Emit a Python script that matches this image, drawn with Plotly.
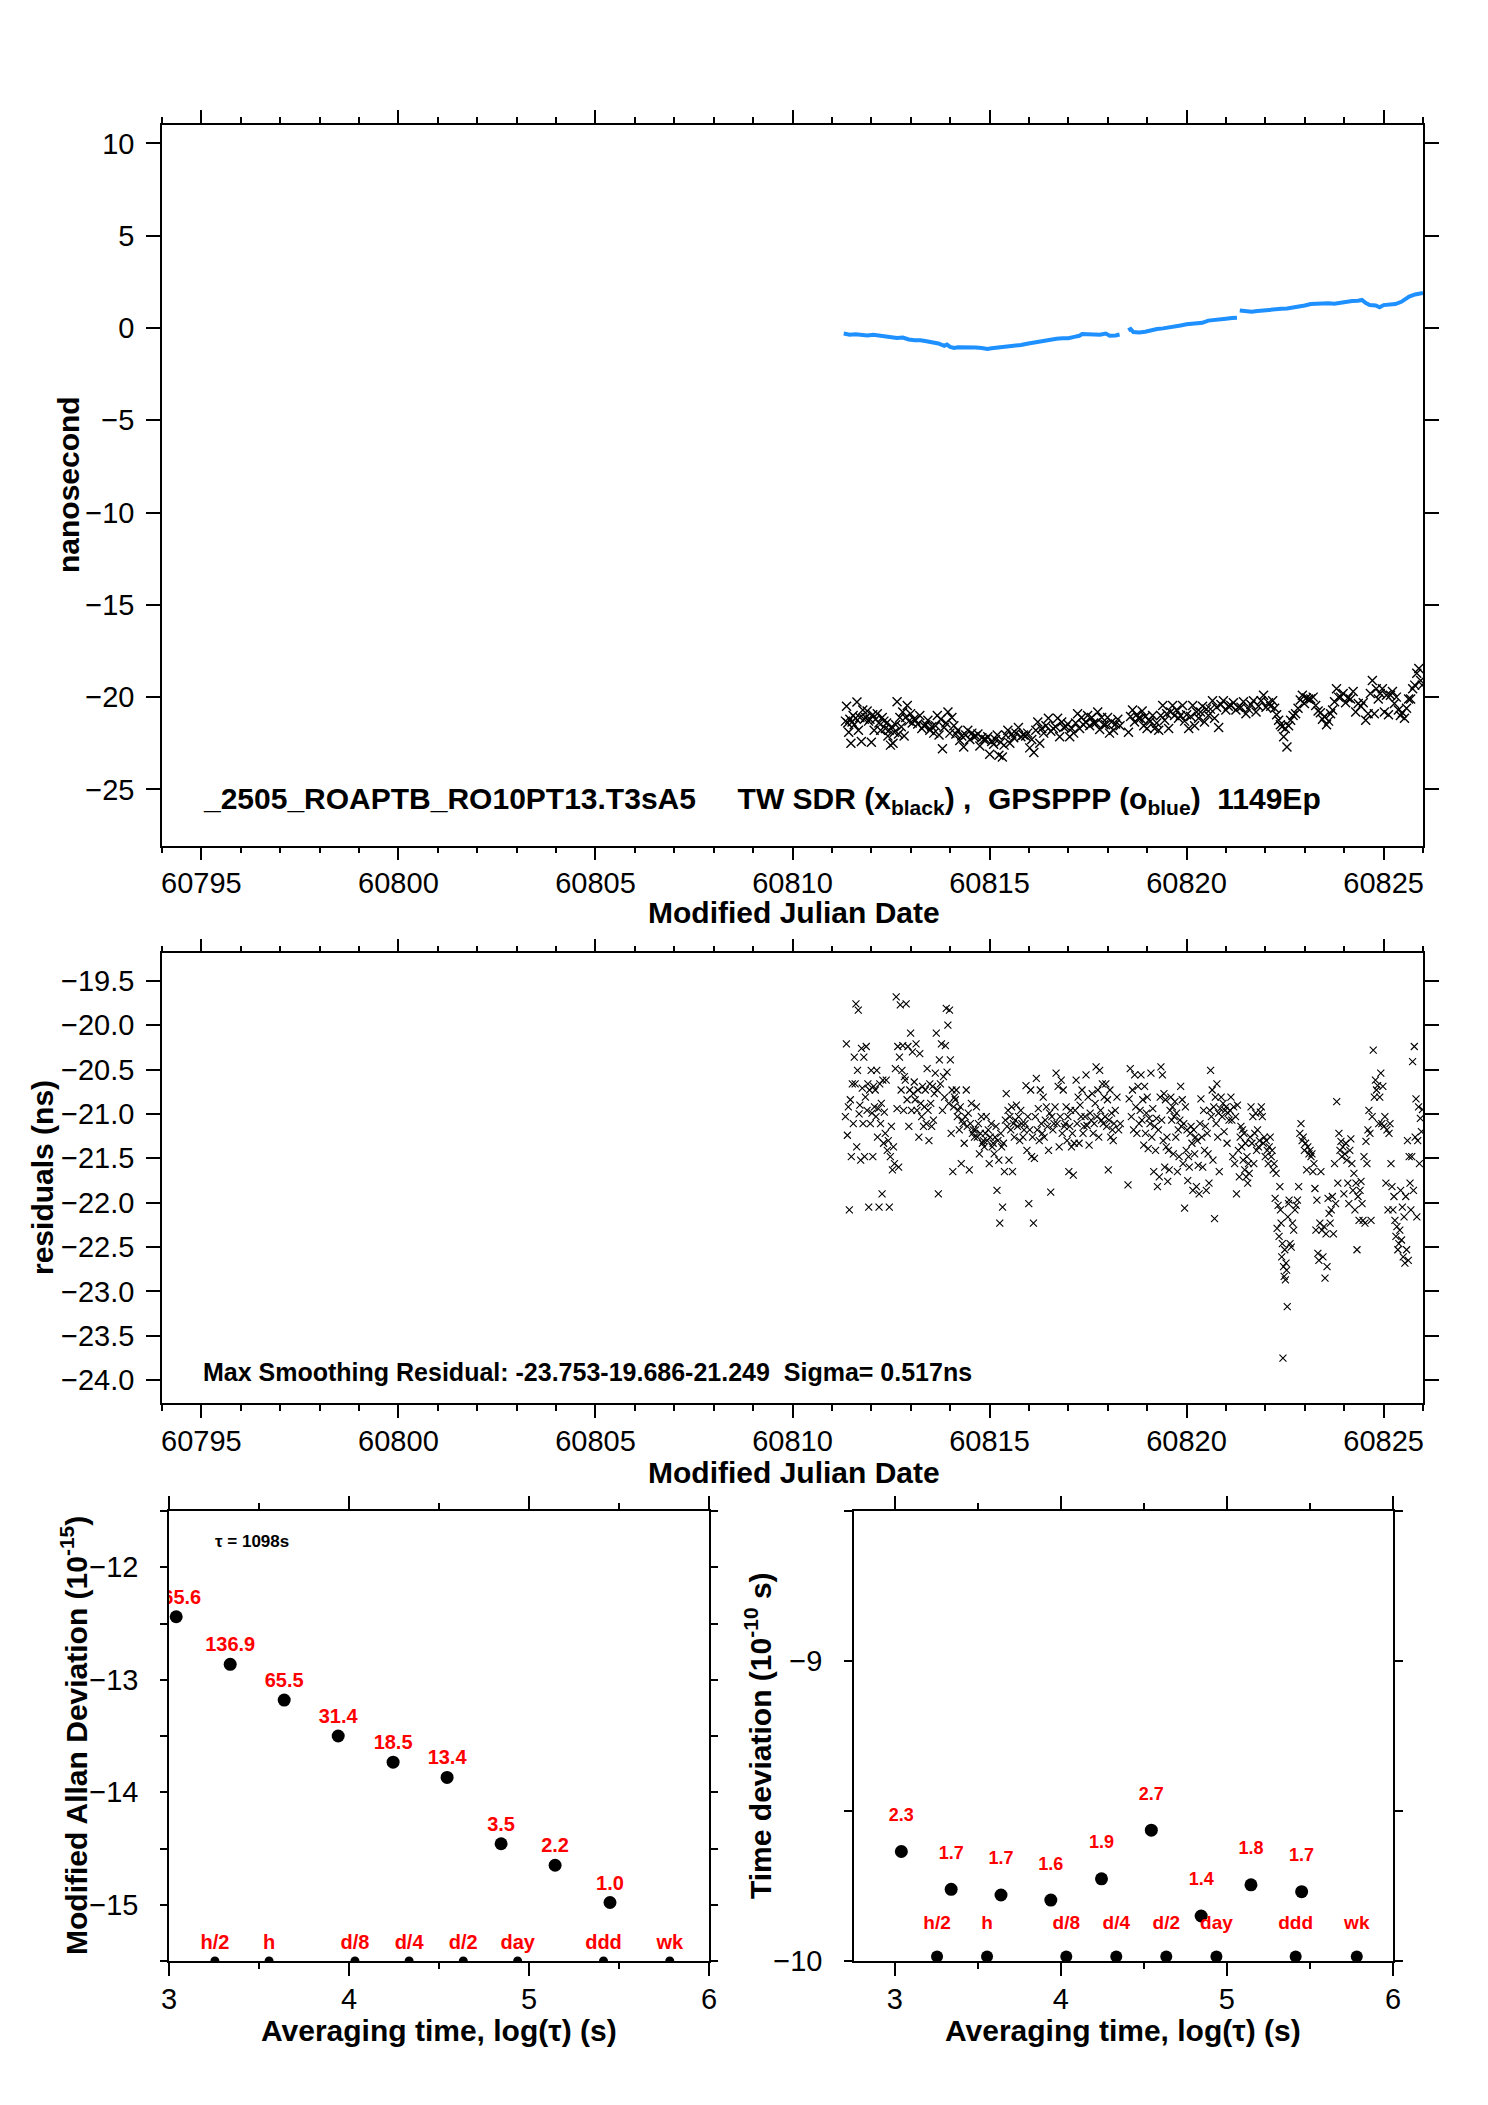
import plotly.graph_objects as go

W, H = 1488, 2105
FONT = "Liberation Sans, Arial, Helvetica, sans-serif"

# ---------------- data ----------------
# sampling bins (MJD starts); points of each bin are placed on evenly spaced epochs inside the bin
BIN_MJD = [60811.33, 60811.58, 60811.84, 60812.09, 60812.34, 60812.60, 60812.85, 60813.10,
           60813.36, 60813.61, 60813.87, 60814.12, 60814.37, 60814.63, 60814.88, 60815.13,
           60815.39, 60815.64, 60815.89, 60816.15, 60816.40, 60816.65, 60816.91, 60817.16,
           60817.41, 60817.67, 60817.92, 60818.17, 60818.34, 60818.50,
           60818.81, 60819.06, 60819.32, 60819.57, 60819.82, 60820.08, 60820.33, 60820.58,
           60820.84, 60821.09, 60821.35, 60821.60, 60821.86, 60822.11, 60822.36, 60822.61,
           60822.86, 60823.12, 60823.37, 60823.63, 60823.88, 60824.13, 60824.39, 60824.64,
           60824.89, 60825.15, 60825.40, 60825.66, 60825.92]
BIN_END = 60826.0

# TW SDR (black x), ns
TW_NS = [
    [-21.3, -20.5, -21.4, -21.9, -21.2, -22.5, -21.35, -21.0, -21.5],
    [-21.15, -20.27, -21.8, -21.1, -22.4, -20.7, -21.2],
    [-21.1, -20.75, -21.3, -21.2, -22.45, -20.95, -21.8],
    [-21.2, -20.9, -21.4, -21.8, -21.1, -21.3],
    [-21.7, -21.4, -22.1, -21.8, -22.6, -21.6, -22.5, -21.9],
    [-21.5, -20.25, -22.0, -21.1, -21.6, -20.8, -22.1],
    [-21.1, -20.45, -21.3, -20.9, -21.4, -21.2],
    [-21.25, -21.45, -21.0, -21.7, -21.55],
    [-21.5, -21.25, -21.8, -21.6, -21.95],
    [-21.55, -21.0, -22.05, -21.2, -22.8, -21.65],
    [-21.4, -20.8, -21.95, -21.1, -21.55],
    [-22.0, -21.8, -22.35, -22.1, -22.7],
    [-22.05, -21.8, -22.3, -21.95, -22.15],
    [-22.1, -22.0, -22.65, -22.2, -22.3],
    [-22.3, -22.15, -23.1, -22.4, -22.55],
    [-22.3, -22.05, -23.15, -22.45, -23.25, -22.6],
    [-22.05, -21.8, -22.5, -22.0, -22.2],
    [-21.95, -21.65, -22.15, -22.05],
    [-22.1, -21.95, -22.75, -22.3, -23.0],
    [-21.8, -21.35, -22.5, -21.7, -21.95],
    [-21.55, -21.15, -21.85, -21.7],
    [-21.6, -21.15, -22.15, -21.35, -21.65],
    [-21.6, -21.45, -22.15, -21.7, -21.95],
    [-21.4, -20.9, -21.7, -21.1, -21.5],
    [-21.35, -21.0, -21.55, -21.1, -21.4],
    [-21.4, -20.8, -21.75, -21.1, -21.5],
    [-21.5, -21.1, -21.95, -21.35, -21.8],
    [-21.45, -21.2, -21.55],
    [],
    [-21.9, -21.05, -20.7, -21.35, -20.95, -21.15],
    [-21.15, -20.75, -21.55, -21.05, -21.7, -21.25],
    [-21.3, -21.0, -21.7, -21.4, -21.8],
    [-21.0, -20.45, -21.25, -20.9, -21.7],
    [-20.8, -20.45, -21.0, -20.7, -21.15],
    [-21.0, -20.45, -21.3, -20.95, -21.7],
    [-21.05, -20.45, -21.55, -20.8, -21.15],
    [-20.8, -20.5, -21.35, -20.65, -21.0],
    [-20.65, -20.2, -21.15, -20.55, -21.65],
    [-20.4, -20.2, -20.7, -20.5],
    [-20.45, -20.3, -20.7, -20.55],
    [-20.55, -20.25, -20.9, -20.65],
    [-20.4, -20.2, -20.8, -20.5],
    [-20.2, -19.9, -20.55, -20.3],
    [-20.5, -20.2, -20.6, -20.95, -21.25],
    [-21.5, -21.6, -22.15, -21.7, -22.7, -21.55],
    [-21.25, -21.0, -20.9, -20.6],
    [-20.15, -19.9, -20.35, -20.05, -20.1],
    [-20.1, -20.0, -20.45, -20.75],
    [-20.85, -21.2, -21.05, -21.5, -21.3],
    [-20.9, -20.7, -20.25, -19.55, -20.0],
    [-20.0, -19.8, -20.3, -20.05],
    [-20.1, -19.7, -20.8, -20.35],
    [-20.5, -20.3, -21.25, -20.9],
    [-19.8, -19.1, -20.9, -19.55, -20.1],
    [-19.8, -19.55, -20.8, -19.9, -20.95],
    [-19.9, -19.7, -20.35, -20.0, -20.7],
    [-21.0, -20.85, -21.15, -20.6, -20.1],
    [-20.1, -19.55, -19.35, -18.7, -18.45],
    [-19.1, -19.35],
]

# smoothing residuals (ns)
RES_NS = [
    [-21.03, -20.21, -21.24, -20.92, -22.08, -20.84, -21.48, -20.66, -21.11, -20.36],
    [-20.66, -19.76, -21.37, -20.51, -19.83, -21.00, -20.90, -21.52, -20.26, -20.71, -21.11, -20.36, -21.48],
    [-20.81, -20.24, -20.96, -20.66, -22.05, -20.73, -21.11, -20.51, -20.99, -21.48, -20.69, -20.92],
    [-20.73, -21.03, -20.51, -21.26, -20.94, -22.05, -20.66, -21.11, -20.88, -21.90, -20.62, -21.33, -20.98],
    [-21.22, -20.62, -21.41, -21.30, -22.05, -21.48, -21.14, -21.63, -21.37, -21.56],
    [-20.49, -19.68, -20.94, -20.24, -21.60, -20.36, -19.77, -20.73, -20.51, -20.23, -20.96, -20.58],
    [-20.62, -19.76, -20.84, -20.24, -21.14, -20.73, -20.09, -20.96, -20.30, -20.77, -20.64],
    [-20.84, -20.21, -20.96, -20.73, -21.26, -20.32, -20.88, -21.03, -20.69, -21.14, -20.92],
    [-20.73, -21.11, -20.49, -20.96, -21.30, -20.66, -20.88, -21.14, -20.69, -21.07, -20.77],
    [-20.54, -20.09, -20.73, -21.90, -20.39, -20.66, -20.21, -20.96, -20.58, -20.81],
    [-20.23, -19.81, -20.53, -20.00, -20.88, -19.83, -20.39, -21.22, -20.73, -21.65, -20.92, -20.81],
    [-20.84, -20.73, -21.03, -20.96, -21.18, -20.92, -21.56, -21.07, -21.11, -21.33],
    [-21.03, -20.73, -21.14, -20.99, -21.63, -21.11, -20.88, -21.22, -21.18, -21.26],
    [-21.18, -20.92, -21.26, -21.11, -21.45, -21.22, -21.03, -21.33, -21.30, -21.37],
    [-21.22, -21.03, -21.30, -21.18, -21.56, -21.26, -21.11, -21.37, -21.33, -21.45],
    [-21.26, -21.14, -21.86, -21.30, -21.52, -22.23, -21.22, -21.37, -22.05, -21.33, -21.65],
    [-21.07, -20.77, -21.14, -20.96, -21.52, -21.03, -21.18, -20.92, -21.65, -21.11, -21.26],
    [-21.07, -20.90, -21.14, -21.03, -21.30, -20.96, -21.11, -21.26, -21.18],
    [-21.11, -20.68, -21.41, -21.03, -22.01, -21.18, -20.73, -21.48, -21.26, -22.23, -21.50],
    [-21.03, -20.60, -21.18, -20.94, -21.30, -20.73, -21.11, -21.22, -20.81, -21.26],
    [-21.07, -20.92, -21.14, -21.41, -20.99, -21.88, -21.03, -21.18, -21.11],
    [-20.92, -20.54, -21.11, -20.69, -21.37, -21.03, -20.62, -21.22, -20.73, -21.14],
    [-21.11, -20.92, -21.30, -21.03, -21.65, -21.14, -20.96, -21.37, -21.22, -21.69, -21.33],
    [-20.96, -20.62, -21.11, -20.81, -21.33, -20.90, -21.03, -20.73, -21.22, -21.14],
    [-21.03, -20.56, -21.13, -20.81, -21.35, -20.99, -21.07, -20.77, -21.22, -21.11],
    [-20.88, -20.47, -21.03, -20.73, -21.26, -20.51, -20.96, -21.07, -20.66, -21.11, -20.81],
    [-21.03, -20.66, -21.14, -20.84, -21.63, -21.07, -20.73, -21.26, -20.99, -21.18, -21.30, -21.11],
    [-20.96, -20.81, -21.18, -21.11],
    [],
    [-21.80, -20.83, -20.49, -21.03, -20.73, -21.18, -20.56, -20.92, -21.22, -20.69, -21.11],
    [-20.96, -20.56, -21.07, -20.84, -21.35, -20.69, -21.22, -20.99, -20.81, -21.39, -21.05],
    [-21.11, -20.54, -21.26, -20.94, -21.65, -21.14, -21.41, -21.05, -21.82, -21.18, -21.71],
    [-20.81, -20.47, -21.07, -20.56, -21.30, -20.77, -21.60, -20.84, -21.37, -21.26, -21.76, -21.41, -21.63],
    [-20.96, -20.81, -21.07, -20.92, -21.45, -21.03, -20.86, -21.26, -20.99, -21.65, -21.18, -21.48],
    [-21.07, -20.69, -21.14, -20.84, -21.56, -21.11, -22.06, -20.92, -21.41, -21.18, -21.75, -21.48, -21.60],
    [-21.22, -21.14, -21.33, -21.86, -21.18, -21.45, -21.26, -21.82, -21.30, -21.58, -21.90],
    [-21.11, -20.83, -21.26, -21.60, -20.96, -21.41, -21.14, -21.86, -21.22, -21.45, -21.78],
    [-20.96, -20.51, -21.03, -20.73, -21.52, -20.92, -22.18, -20.81, -21.11, -20.66, -21.26, -20.99, -21.65],
    [-20.94, -20.81, -21.03, -20.88, -21.20, -20.96, -20.92, -21.33, -20.99, -21.07],
    [-20.96, -20.81, -21.07, -21.48, -20.92, -21.56, -21.03, -21.90, -20.90, -21.41, -21.71],
    [-21.26, -21.14, -21.37, -21.18, -21.52, -21.22, -21.63, -21.33, -21.71, -21.48, -21.78, -21.56, -21.67],
    [-21.26, -20.92, -21.33, -21.03, -21.56, -21.22, -20.99, -21.41, -21.18, -21.37, -21.30],
    [-20.98, -20.92, -21.03, -21.33, -21.26, -21.48, -21.30, -21.41, -21.56, -21.37],
    [-21.26, -21.48, -21.41, -21.63, -21.56, -21.95, -21.67, -22.29, -22.03, -22.38],
    [-21.82, -22.08, -22.23, -22.61, -22.46, -23.75, -22.72, -22.83, -22.53, -22.87, -22.68, -22.76,
     -23.17, -22.16, -22.01, -21.97],
    [-22.46, -22.50, -22.23, -22.31, -22.08, -22.03, -21.97, -21.82],
    [-21.22, -21.11, -21.30, -21.26, -21.41, -21.33, -21.63, -21.37, -21.45],
    [-21.41, -21.48, -21.45, -21.65, -21.56, -21.84, -22.31, -21.97, -22.57, -22.65],
    [-22.23, -21.65, -22.31, -22.61, -22.27, -22.85, -22.35, -22.72, -21.95, -22.12],
    [-22.23, -22.08, -21.93, -22.35, -21.56, -22.01, -20.86, -21.78, -21.22],
    [-21.41, -21.31, -21.48, -21.37, -21.90, -21.45, -21.33, -21.52, -21.78, -22.01],
    [-21.41, -21.28, -21.56, -21.86, -21.67, -22.08, -21.78, -22.53, -21.93, -22.20],
    [-21.86, -21.76, -22.01, -22.20, -21.48, -22.23, -21.31, -21.56, -21.18, -20.96],
    [-21.22, -22.20, -21.03, -20.28, -20.81, -20.62, -20.73, -20.68, -21.11],
    [-20.81, -20.54, -21.11, -20.69, -21.14, -21.03, -21.78, -21.18, -22.08, -21.22],
    [-21.11, -21.56, -21.82, -22.08, -21.93, -22.20, -22.38, -22.27, -22.53, -22.46],
    [-22.31, -21.86, -22.42, -22.05, -22.61, -22.16, -22.68, -21.93, -22.53, -21.30, -22.65, -21.48],
    [-21.78, -22.08, -21.48, -20.41, -21.86, -20.24, -21.26, -20.83, -22.16, -21.30, -20.92, -21.56],
    [-21.05, -21.20, -20.95],
]

# GPSPPP (blue), ns ; None marks a data gap
GPS_MJD = [60811.30, 60811.45, 60811.60, 60811.75, 60811.90, 60812.05, 60812.20, 60812.35, 60812.50,
           60812.65, 60812.80, 60812.95, 60813.10, 60813.25, 60813.40, 60813.55, 60813.70, 60813.85,
           60813.92, 60814.00, 60814.10, 60814.20, 60814.35, 60814.50, 60814.65, 60814.80, 60814.95,
           60815.05, 60815.20, 60815.35, 60815.50, 60815.65, 60815.80, 60815.95, 60816.10, 60816.25,
           60816.40, 60816.55, 60816.70, 60816.85, 60817.00, 60817.15, 60817.28, 60817.35, 60817.50,
           60817.65, 60817.80, 60817.95, 60818.05, 60818.20, 60818.30, 60818.40,
           60818.52, 60818.58, 60818.65, 60818.80, 60818.95, 60819.10, 60819.25, 60819.40, 60819.55,
           60819.70, 60819.85, 60820.00, 60820.15, 60820.30, 60820.40, 60820.55, 60820.70, 60820.85,
           60821.00, 60821.15, 60821.28, 60821.31,
           60821.35, 60821.50, 60821.65, 60821.80, 60821.95, 60822.10, 60822.25, 60822.40, 60822.55,
           60822.70, 60822.85, 60823.00, 60823.15, 60823.30, 60823.45, 60823.60, 60823.75, 60823.90,
           60824.05, 60824.20, 60824.35, 60824.45, 60824.55, 60824.65, 60824.80, 60824.90, 60825.00,
           60825.15, 60825.30, 60825.45, 60825.55, 60825.65, 60825.80, 60825.95, 60826.00]
GPS_NS = [-0.30, -0.36, -0.34, -0.38, -0.40, -0.36, -0.40, -0.45, -0.49,
          -0.54, -0.52, -0.62, -0.66, -0.66, -0.72, -0.76, -0.84, -0.97,
          -0.90, -1.02, -1.08, -1.04, -1.03, -1.04, -1.05, -1.08, -1.13,
          -1.10, -1.07, -1.04, -0.98, -0.93, -0.92, -0.85, -0.79, -0.74,
          -0.68, -0.63, -0.58, -0.56, -0.55, -0.48, -0.42, -0.33, -0.35,
          -0.32, -0.36, -0.30, -0.42, -0.40, -0.35, None,
          -0.12, -0.05, -0.22, -0.24, -0.20, -0.12, -0.05, -0.02, 0.02,
          0.10, 0.14, 0.20, 0.22, 0.22, 0.28, 0.40, 0.45, 0.48,
          0.50, 0.54, 0.56, None,
          0.95, 0.90, 0.88, 0.92, 0.96, 0.98, 1.02, 1.04, 1.06,
          1.10, 1.14, 1.22, 1.30, 1.32, 1.34, 1.34, 1.32, 1.38,
          1.40, 1.46, 1.48, 1.52, 1.35, 1.25, 1.22, 1.12, 1.24,
          1.28, 1.30, 1.42, 1.56, 1.70, 1.82, 1.88, 1.90]

# stability panels
TAU_LOG = [3.04, 3.34, 3.64, 3.94, 4.245, 4.545, 4.845, 5.145, 5.45]
MDEV_LOG = [-12.44, -12.863, -13.181, -13.50, -13.733, -13.868, -14.458, -14.649, -14.98]
MDEV_LABELS = ["365.6", "136.9", "65.5", "31.4", "18.5", "13.4", "3.5", "2.2", "1.0"]
TDEV_LOG = [-9.635, -9.761, -9.780, -9.797, -9.726, -9.564, -9.850, -9.746, -9.769]
TDEV_LABELS = ["2.3", "1.7", "1.7", "1.6", "1.9", "2.7", "1.4", "1.8", "1.7"]
REF_LOG = [3.255, 3.556, 4.033, 4.334, 4.635, 4.937, 5.414, 5.782]
REF_LABELS = ["h/2", "h", "d/8", "d/4", "d/2", "day", "ddd", "wk"]

TOP_TEXT = ("_2505_ROAPTB_RO10PT13.T3sA5\u00a0\u00a0\u00a0\u00a0\u00a0TW SDR (x<sub>black</sub>)\u00a0,"
            "\u00a0\u00a0GPSPPP (o<sub>blue</sub>)\u00a0\u00a01149Ep")
RES_TEXT = "Max Smoothing Residual: -23.753-19.686-21.249\u00a0\u00a0Sigma= 0.517ns"


def expand(starts, end, groups):
    edges = list(starts) + [end]
    xs, ys = [], []
    for i, vals in enumerate(groups):
        n = len(vals)
        for j, v in enumerate(vals):
            xs.append(edges[i] + (j + 0.5) * (edges[i + 1] - edges[i]) / n)
            ys.append(v)
    return xs, ys


tw_x, tw_y = expand(BIN_MJD, BIN_END, TW_NS)
res_x, res_y = expand(BIN_MJD, BIN_END, RES_NS)

# ---------------- figure ----------------
def px_x(p):
    return p / W


def px_y(p):
    return 1 - p / H


fig = go.Figure()
xmark_top = dict(symbol="x-thin", size=9, line=dict(width=1.4, color="black"), color="black")
xmark = dict(symbol="x-thin", size=7, line=dict(width=1.1, color="black"), color="black")

fig.add_trace(go.Scatter(x=GPS_MJD, y=GPS_NS, mode="lines", line=dict(color="#1E90FF", width=4),
                         xaxis="x", yaxis="y", connectgaps=False))
fig.add_trace(go.Scatter(x=tw_x, y=tw_y, mode="markers", marker=xmark_top, xaxis="x", yaxis="y"))
fig.add_trace(go.Scatter(x=res_x, y=res_y, mode="markers", marker=xmark, xaxis="x2", yaxis="y2"))

# modified Allan deviation
fig.add_trace(go.Scatter(x=TAU_LOG, y=MDEV_LOG, mode="markers",
                         marker=dict(size=13, color="black"), xaxis="x3", yaxis="y3"))
fig.add_trace(go.Scatter(x=TAU_LOG, y=[v + 0.16 for v in MDEV_LOG], mode="text",
                         text=["<b>%s</b>" % t for t in MDEV_LABELS],
                         textfont=dict(family=FONT, size=20, color="red"), xaxis="x3", yaxis="y3"))
fig.add_trace(go.Scatter(x=REF_LOG, y=[-15.5] * len(REF_LOG), mode="markers",
                         marker=dict(size=9, color="black"), xaxis="x3", yaxis="y3"))
fig.add_trace(go.Scatter(x=REF_LOG, y=[-15.5 + 0.155] * len(REF_LOG), mode="text",
                         text=["<b>%s</b>" % t for t in REF_LABELS],
                         textfont=dict(family=FONT, size=20, color="red"), xaxis="x3", yaxis="y3"))

# time deviation
fig.add_trace(go.Scatter(x=TAU_LOG, y=TDEV_LOG, mode="markers",
                         marker=dict(size=13, color="black"), xaxis="x4", yaxis="y4"))
fig.add_trace(go.Scatter(x=TAU_LOG, y=[v + 0.117 for v in TDEV_LOG], mode="text",
                         text=["<b>%s</b>" % t for t in TDEV_LABELS],
                         textfont=dict(family=FONT, size=18, color="red"), xaxis="x4", yaxis="y4"))
fig.add_trace(go.Scatter(x=REF_LOG, y=[-9.985] * len(REF_LOG), mode="markers",
                         marker=dict(size=12, color="black"), xaxis="x4", yaxis="y4"))
fig.add_trace(go.Scatter(x=REF_LOG, y=[-10 + 0.122] * len(REF_LOG), mode="text",
                         text=["<b>%s</b>" % t for t in REF_LABELS],
                         textfont=dict(family=FONT, size=19, color="red"), xaxis="x4", yaxis="y4"))

tickfont = dict(family=FONT, size=29, color="black")


def ax(domain, rng, anchor, **kw):
    d = dict(domain=domain, range=rng, anchor=anchor, showline=True, linecolor="black", linewidth=1.5,
             mirror="ticks", ticks="outside", tickcolor="black", tickwidth=1.5, showgrid=False,
             zeroline=False, tickfont=tickfont, ticklabelstandoff=6, automargin=False)
    d.update(kw)
    return d


XD_TOP = [162 / W, 1423 / W]
XSTAND = -2
fig.update_layout(
    width=W, height=H, margin=dict(l=0, r=0, t=0, b=0, pad=0), autosize=False,
    paper_bgcolor="white", plot_bgcolor="white", showlegend=False,
    font=dict(family=FONT, color="black"),
    xaxis=ax(XD_TOP, [60794, 60826], "y", tick0=60795, dtick=5, ticklen=13, tickformat="d",
             ticklabelstandoff=XSTAND,
             minor=dict(dtick=1, ticklen=6, ticks="outside", tickcolor="black", tickwidth=1.5)),
    yaxis=ax([px_y(845.7), px_y(125)], [-28.05, 11.0], "x", tick0=0, dtick=5, ticklen=14),
    xaxis2=ax(XD_TOP, [60794, 60826], "y2", tick0=60795, dtick=5, ticklen=13, tickformat="d",
              ticklabelstandoff=XSTAND,
              minor=dict(dtick=1, ticklen=6, ticks="outside", tickcolor="black", tickwidth=1.5)),
    yaxis2=ax([px_y(1403.3), px_y(953.3)], [-24.26, -19.19], "x2", tick0=-24, dtick=0.5,
              tickformat=".1f", ticklen=14),
    xaxis3=ax([169 / W, 709 / W], [3, 6], "y3", tick0=3, dtick=1, ticklen=13, ticklabelstandoff=XSTAND,
              minor=dict(dtick=0.5, ticklen=6, ticks="outside", tickcolor="black", tickwidth=1.5)),
    yaxis3=ax([px_y(1961), px_y(1511)], [-15.5, -11.5], "x3", tickvals=[-15, -14, -13, -12], ticklen=7,
              minor=dict(dtick=0.5, tick0=-15.5, ticklen=7, ticks="outside", tickcolor="black",
                         tickwidth=1.5), ticklabelstandoff=16),
    xaxis4=ax([854 / W, 1393 / W], [2.755, 6], "y4", tick0=3, dtick=1, ticklen=13, ticklabelstandoff=XSTAND,
              minor=dict(dtick=0.5, tick0=3, ticklen=6, ticks="outside", tickcolor="black", tickwidth=1.5)),
    yaxis4=ax([px_y(1961), px_y(1511)], [-10, -8.5], "x4", tickvals=[-10, -9], ticklen=8,
              minor=dict(dtick=0.5, tick0=-10, ticklen=8, ticks="outside", tickcolor="black",
                         tickwidth=1.5), ticklabelstandoff=16),
)


def title(text, x, y, angle=0, size=30):
    fig.add_annotation(text="<b>%s</b>" % text, x=px_x(x), y=px_y(y), xref="paper", yref="paper",
                       showarrow=False, textangle=angle, xanchor="center", yanchor="middle",
                       font=dict(family=FONT, size=size, color="black"))


title("nanosecond", 68, 485, -90)
title("Modified Julian Date", 794, 912)
title("residuals (ns)", 42, 1178, -90)
title("Modified Julian Date", 794, 1472)
title("Modified Allan Deviation (10<sup>-15</sup>)", 74, 1736, -90)
title("Time deviation (10<sup>-10</sup> s)", 758, 1736, -90)
title("Averaging time, log(\u03c4) (s)", 439, 2030)
title("Averaging time, log(\u03c4) (s)", 1123, 2030)

fig.add_annotation(text="<b>%s</b>" % TOP_TEXT, x=60795, y=-25.6, xref="x", yref="y", showarrow=False,
                   xanchor="left", yanchor="middle", font=dict(family=FONT, size=30, color="black"))
fig.add_annotation(text="<b>%s</b>" % RES_TEXT, x=60795, y=-23.91, xref="x2", yref="y2", showarrow=False,
                   xanchor="left", yanchor="middle", font=dict(family=FONT, size=25, color="black"))
fig.add_annotation(text="<b>\u03c4 = 1098s</b>", x=3.46, y=-11.77, xref="x3", yref="y3", showarrow=False,
                   xanchor="center", yanchor="middle", font=dict(family=FONT, size=17, color="black"))

fig.write_html("out.html", config={"displayModeBar": False},
               post_script="document.body.style.margin='0';document.body.style.padding='0';"
                           "document.documentElement.style.overflow='hidden';")
